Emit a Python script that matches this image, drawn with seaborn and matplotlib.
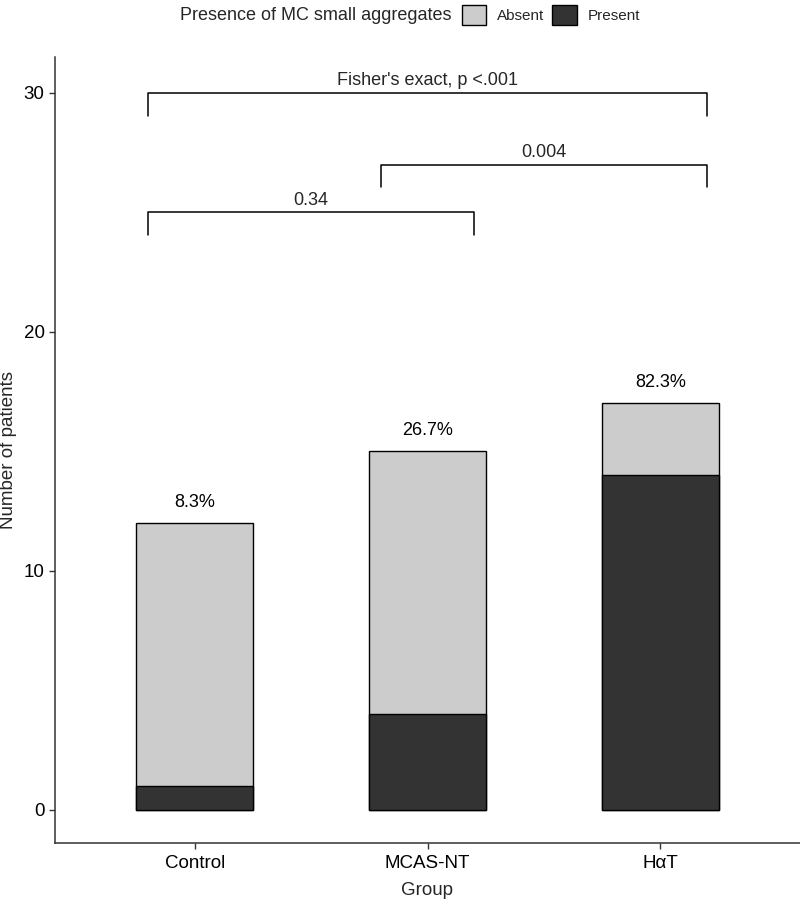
import matplotlib
matplotlib.use("Agg")
import matplotlib.pyplot as plt
import seaborn as sns
import pandas as pd
from matplotlib.patches import Patch

groups = ["Control", "MCAS-NT", "H\u03b1T"]
absent = [11, 11, 3]
present = [1, 4, 14]
pct_labels = ["8.3%", "26.7%", "82.3%"]
y_ticks = [0, 10, 20, 30]
comparisons = [("Control", "H\u03b1T", "Fisher's exact, p <.001", 30.0),
               ("MCAS-NT", "H\u03b1T", "0.004", 27.0),
               ("Control", "MCAS-NT", "0.34", 25.0)]

totals = [a + p for a, p in zip(absent, present)]
df_tot = pd.DataFrame({"Group": groups, "n": totals})
df_pre = pd.DataFrame({"Group": groups, "n": present})

sns.set_theme(style="ticks")
plt.rcParams["font.family"] = ["Liberation Sans", "DejaVu Sans"]

fig = plt.figure(figsize=(8, 8.99), dpi=100)
ax = fig.add_axes([55/800, 56/899, 745/800, 786/899])

sns.barplot(data=df_tot, x="Group", y="n", order=groups, color="#CCCCCC",
            width=0.5, edgecolor="black", linewidth=1.0, saturation=1, ax=ax)
sns.barplot(data=df_pre, x="Group", y="n", order=groups, color="#333333",
            width=0.5, edgecolor="black", linewidth=1.0, saturation=1, ax=ax)

for i, (t, lab) in enumerate(zip(totals, pct_labels)):
    ax.text(i, t + 0.5, lab, ha="center", va="bottom", fontsize=13, color="black")

pos = {g: i for i, g in enumerate(groups)}
for g1, g2, lab, yb in comparisons:
    x1 = pos[g1] - 0.2
    x2 = pos[g2] + 0.2
    ax.plot([x1, x1, x2, x2], [yb - 0.95, yb, yb, yb - 0.95], color="black", lw=1.1)
    ax.text((x1 + x2) / 2, yb + 0.15, lab, ha="center", va="bottom", fontsize=13)

ax.set_xlim(-0.6, 2.6)
ax.set_ylim(-1.4, 31.5)
ax.set_yticks(y_ticks)
ax.set_yticklabels([str(v) for v in y_ticks])
ax.tick_params(axis="both", labelsize=13.5, colors="#333333", length=4, width=1, labelcolor="black")
ax.tick_params(axis="x", pad=5)
ax.set_xlabel("Group", fontsize=13.5, labelpad=7)
ax.set_ylabel("Number of patients", fontsize=13.5, labelpad=5)
sns.despine(ax=ax)
for s in ["left", "bottom"]:
    ax.spines[s].set_color("#333333")
    ax.spines[s].set_linewidth(1.1)

fig.text(180/800, 1 - 15/899, "Presence of MC small aggregates", fontsize=13,
         ha="left", va="center")
handles = [Patch(facecolor="#CCCCCC", edgecolor="black", lw=1.0),
           Patch(facecolor="#333333", edgecolor="black", lw=1.0)]
fig.legend(handles, ["Absent", "Present"], ncol=2, loc="center left",
           bbox_to_anchor=(451/800, 1 - 15/899), frameon=False, fontsize=11,
           handlelength=1.6, handleheight=1.7, columnspacing=0.55, handletextpad=0.7,
           borderpad=0.2)

fig.savefig("out.png", dpi=100)
